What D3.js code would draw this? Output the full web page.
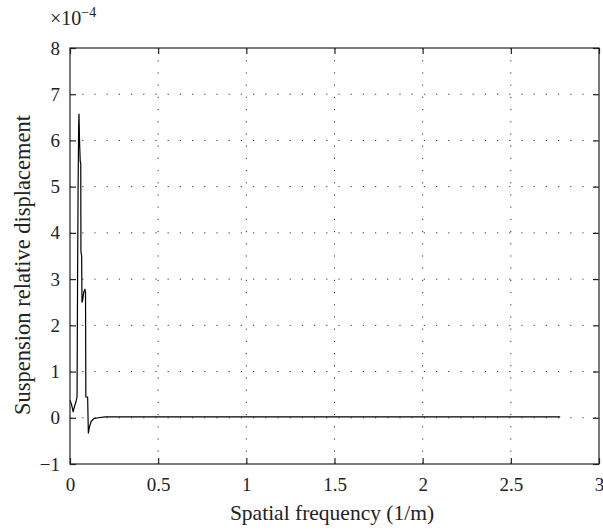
<!DOCTYPE html>
<html>
<head>
<meta charset="utf-8">
<script src="https://cdn.jsdelivr.net/npm/d3@7/dist/d3.min.js"></script>
<style>
  body { margin: 0; background: #fff; }
  svg { display: block; }
  text { font-family: "Liberation Serif", "DejaVu Serif", serif; fill: #222; }
</style>
</head>
<body>
<svg id="chart" width="603" height="531"></svg>
<script>
// Data (values in units of 1e-4)
const freq = [0, 0.008, 0.018, 0.026, 0.036, 0.040, 0.043, 0.046, 0.049, 0.051, 0.054, 0.058, 0.061, 0.062, 0.066, 0.068, 0.072, 0.078, 0.085, 0.088, 0.090, 0.100, 0.104, 0.110, 0.120, 0.135, 0.16, 0.2, 2.78];
const disp = [0.38, 0.3, 0.13, 0.25, 0.38, 0.45, 3.0, 5.0, 6.3, 6.57, 6.0, 5.55, 5.5, 3.6, 3.5, 2.5, 2.55, 2.72, 2.78, 2.7, 0.45, 0.45, -0.33, -0.2, -0.08, -0.02, 0.0, 0.02, 0.02];
const xTicks = [0, 0.5, 1, 1.5, 2, 2.5, 3];
const xTickLabels = ["0", "0.5", "1", "1.5", "2", "2.5", "3"];
const yTicks = [-1, 0, 1, 2, 3, 4, 5, 6, 7, 8];
const yTickLabels = ["\u22121", "0", "1", "2", "3", "4", "5", "6", "7", "8"];

const svg = d3.select("#chart");
const L = 70, R = 599, T = 48, B = 464;
const x = d3.scaleLinear().domain([0, 3]).range([L, R]);
const y = d3.scaleLinear().domain([-1, 8]).range([B, T]);

// grid
const g = svg.append("g");
g.selectAll(".vg").data(xTicks.slice(1, -1)).enter().append("line")
  .attr("x1", d => x(d)).attr("x2", d => x(d)).attr("y1", B).attr("y2", T)
  .attr("stroke", "#333").attr("stroke-width", 1).attr("stroke-dasharray", "1.2,11");
g.selectAll(".hg").data(yTicks.slice(1, -1)).enter().append("line")
  .attr("x1", L).attr("x2", R).attr("y1", d => y(d)).attr("y2", d => y(d))
  .attr("stroke", "#333").attr("stroke-width", 1).attr("stroke-dasharray", "1.2,11");

// curve
const pts = freq.map((f, i) => [f, disp[i]]);
svg.append("path").datum(pts)
  .attr("d", d3.line().x(d => x(d[0])).y(d => y(d[1])))
  .attr("fill", "none").attr("stroke", "#000").attr("stroke-width", 1.2)
  .attr("stroke-linejoin", "round");

// axes (ticks inside)
const tl = 6;
const axB = svg.append("g").attr("transform", `translate(0,${B})`)
  .call(d3.axisBottom(x).tickValues(xTicks).tickSize(-tl).tickPadding(14).tickFormat((d, i) => xTickLabels[i]));
const axT = svg.append("g").attr("transform", `translate(0,${T})`)
  .call(d3.axisTop(x).tickValues(xTicks).tickSize(-tl).tickFormat(""));
const axL = svg.append("g").attr("transform", `translate(${L},0)`)
  .call(d3.axisLeft(y).tickValues(yTicks).tickSize(-tl).tickPadding(10).tickFormat((d, i) => yTickLabels[i]));
const axR = svg.append("g").attr("transform", `translate(${R},0)`)
  .call(d3.axisRight(y).tickValues(yTicks).tickSize(-tl).tickFormat(""));
[axB, axT, axL, axR].forEach(a => {
  a.selectAll(".tick line").attr("stroke", "#222").attr("stroke-width", 1.2);
  a.selectAll("text").attr("font-size", 19).attr("fill", "#222")
    .attr("font-family", "'Liberation Serif', 'DejaVu Serif', serif");
});
axB.selectAll("text").attr("y", 27).attr("dy", null);
svg.selectAll(".domain").remove();
svg.append("rect").attr("x", L).attr("y", T).attr("width", R - L).attr("height", B - T)
  .attr("fill", "none").attr("stroke", "#222").attr("stroke-width", 1.2);

// exponent
const ex = svg.append("text").attr("x", 50).attr("y", 25).attr("font-size", 20);
ex.append("tspan").text("\u00d710");
ex.append("tspan").attr("dy", -8).attr("font-size", 14).text("\u22124");

// axis labels
svg.append("text").attr("x", 332).attr("y", 520).attr("text-anchor", "middle")
  .attr("font-size", 21.5).text("Spatial frequency (1/m)");
svg.append("text").attr("transform", `translate(30,265) rotate(-90)`)
  .attr("text-anchor", "middle").attr("font-size", 22.5).text("Suspension relative displacement");
</script>
</body>
</html>
